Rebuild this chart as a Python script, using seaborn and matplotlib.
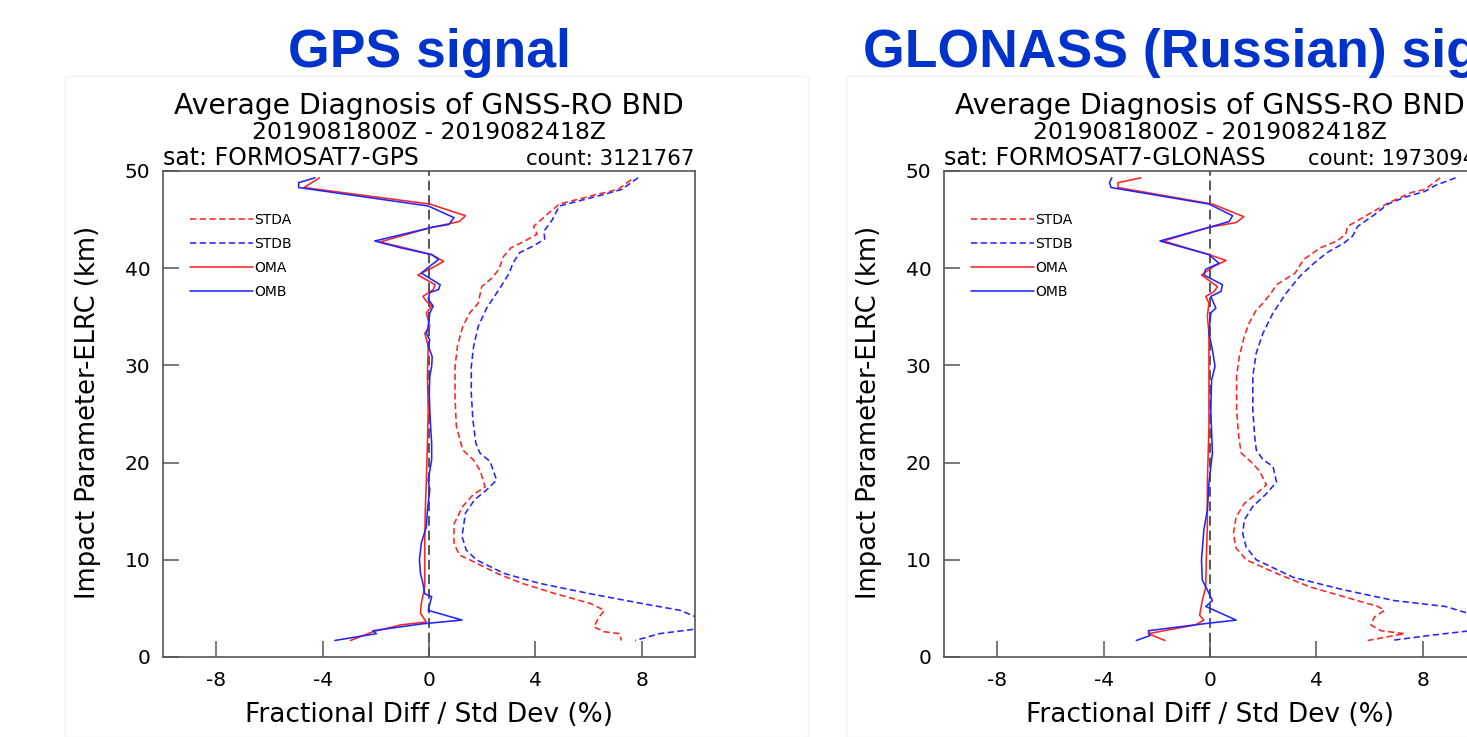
import matplotlib
matplotlib.use('Agg')
import matplotlib.pyplot as plt
import seaborn as sns
from matplotlib.patches import Rectangle

# GPS panel: profiles (x = %, y = km)
gps_stda_x = [7.60, 7.10, 6.33, 4.90, 4.51, 3.93, 4.06, 3.60, 3.08, 2.80, 2.63, 2.37, 1.98, 1.85, 1.53, 1.27, 1.07, 0.98, 0.98, 1.03,
              1.27, 1.66, 1.92, 2.11, 1.66, 1.27, 0.94, 0.94, 1.14, 1.53, 2.56, 3.47, 4.77, 6.07, 6.59, 6.39, 6.20, 6.59, 7.17, 7.23]
gps_stda_y = [49.1, 48.1, 47.6, 46.6, 45.7, 44.3, 43.5, 42.8, 42.1, 41.2, 39.9, 39.0, 38.1, 36.4, 35.4, 34.0, 32.0, 29.9, 26.5, 23.7,
              21.3, 20.3, 19.2, 17.5, 16.7, 15.5, 13.7, 11.7, 10.5, 10.0, 8.6, 7.6, 6.5, 5.5, 4.8, 4.1, 3.1, 2.6, 2.4, 1.7]
gps_stdb_x = [7.86, 7.24, 6.59, 4.90, 4.64, 4.32, 4.35, 3.93, 3.41, 3.15, 3.02, 2.63, 2.17, 1.85, 1.68, 1.59, 1.59, 1.65, 1.76,
              1.91, 2.30, 2.54, 2.17, 1.72, 1.37, 1.24, 1.40, 1.78, 2.82, 4.12, 6.07, 8.01, 9.44, 10.4, 10.1, 8.66, 7.75]
gps_stdb_y = [49.3, 48.1, 47.6, 46.4, 45.0, 43.8, 43.0, 42.3, 41.6, 40.5, 39.5, 37.8, 35.9, 34.0, 32.0, 29.9, 27.1, 24.4, 22.0,
              21.0, 20.1, 18.2, 17.2, 16.2, 14.8, 12.4, 11.0, 10.0, 8.6, 7.6, 6.5, 5.5, 4.8, 3.7, 2.9, 2.4, 1.7]
gps_oma_x = [-4.12, -4.70, 0.03, 1.37, 1.14, 0.10, -1.85, -1.07, 0.10, 0.55, 0.23, -0.42, 0.23, 0.16, -0.23, -0.10, 0.10,
             -0.10, 0.03, -0.16, -0.03, -0.06, -0.03, -0.06, -0.10, -0.14, -0.16, -0.16, -0.29, -0.32, -0.10, -1.07, -2.11, -2.95]
gps_oma_y = [49.3, 48.3, 46.6, 45.4, 44.8, 44.2, 42.7, 42.2, 41.4, 40.7, 40.2, 39.3, 38.3, 37.8, 37.1, 36.6, 36.1,
             35.4, 34.0, 33.3, 32.0, 28.9, 25.4, 22.0, 18.2, 15.1, 11.7, 7.2, 5.5, 4.5, 3.6, 3.3, 2.6, 1.7]
gps_omb_x = [-4.29, -4.90, -4.90, -0.03, 0.94, 0.75, 0.10, -0.81, -2.04, -1.07, 0.10, 0.36, 0.03, -0.29, 0.42, 0.36, 0.03,
             -0.03, 0.16, 0.03, -0.03, -0.10, 0.03, -0.03, 0.12, 0.10, 0.03, 0.01, 0.03, 0.06, 0.10, 0.10, -0.03, 0.03,
             -0.06, -0.10, -0.29, -0.36, -0.32, -0.23, -0.16, 0.10, -0.03, 1.24, -0.29, -2.11, -1.98, -3.54]
gps_omb_y = [49.3, 48.8, 48.3, 46.4, 45.2, 44.5, 44.2, 43.6, 42.8, 42.1, 41.4, 40.9, 40.2, 39.5, 38.3, 37.8, 37.5,
             36.8, 36.1, 35.4, 34.0, 33.3, 32.6, 32.0, 30.9, 29.9, 28.9, 27.1, 25.4, 23.7, 22.0, 20.3, 18.2, 17.2,
             15.1, 13.4, 11.7, 10.0, 8.6, 7.6, 6.5, 6.2, 4.8, 3.8, 3.4, 2.7, 2.4, 1.7]

# GLONASS panel
glo_stda_x = [8.65, 8.08, 7.58, 6.69, 5.93, 5.17, 5.10, 4.78, 4.15, 3.52, 3.20, 2.50, 2.31, 1.99, 1.74, 1.48, 1.29, 1.10, 1.00, 1.00,
              1.08, 1.17, 1.61, 1.87, 2.12, 1.74, 1.29, 0.98, 0.88, 0.98, 1.36, 2.50, 3.77, 5.04, 6.31, 6.56, 6.18, 6.05, 6.43, 7.32, 5.93]
glo_stda_y = [49.3, 48.1, 47.8, 46.7, 45.5, 44.3, 43.5, 42.8, 42.1, 40.9, 39.5, 38.3, 37.5, 36.4, 35.7, 34.4, 33.0, 30.9, 28.9, 25.4,
              22.7, 21.0, 19.9, 19.1, 17.7, 16.8, 15.8, 14.4, 12.7, 11.2, 10.0, 8.6, 7.2, 6.2, 5.2, 4.8, 4.1, 3.3, 2.7, 2.4, 1.7]
glo_stdb_x = [9.23, 8.46, 8.08, 7.32, 6.69, 6.18, 5.55, 5.36, 5.04, 4.40, 3.90, 3.39, 2.88, 2.37, 1.99, 1.74, 1.61, 1.61, 1.68,
              1.74, 1.99, 2.37, 2.50, 2.12, 1.61, 1.29, 1.23, 1.36, 1.74, 3.13, 5.04, 6.94, 8.85, 10.3, 10.1, 8.20, 6.81]
glo_stdb_y = [49.3, 48.5, 47.9, 47.3, 46.6, 45.5, 44.3, 43.3, 42.6, 41.6, 40.5, 39.2, 37.5, 35.4, 33.3, 31.3, 28.9, 25.4, 22.7,
              21.3, 20.3, 19.6, 18.0, 16.8, 15.5, 14.1, 12.7, 11.3, 10.0, 8.2, 6.9, 5.8, 5.2, 4.0, 2.8, 2.2, 1.7]
glo_oma_x = [-2.60, -3.46, -3.46, 0.09, 1.27, 0.98, -0.04, -1.75, -0.04, 0.60, 0.15, -0.32, 0.28, 0.15, -0.16, -0.04, -0.10,
             -0.04, -0.04, -0.04, -0.10, -0.10, -0.14, -0.16, -0.29, -0.39, -0.23, -0.55, -2.32, -1.69]
glo_oma_y = [49.3, 48.8, 48.3, 46.6, 45.3, 44.7, 44.2, 42.8, 41.4, 40.8, 40.2, 39.3, 38.1, 37.6, 37.1, 36.4, 35.1,
             33.3, 28.9, 23.7, 17.9, 13.4, 10.0, 7.2, 5.8, 4.3, 3.8, 3.3, 2.4, 1.7]
glo_omb_x = [-3.69, -3.78, -3.72, -0.04, 0.85, 0.72, -0.04, -1.88, -0.04, 0.34, -0.16, -0.23, 0.47, 0.41, 0.03, 0.22, 0.03,
             -0.04, 0.09, 0.19, 0.06, 0.03, 0.09, -0.04, -0.10, -0.23, -0.32, -0.29, -0.10, 0.09, -0.16, 0.98, -0.29,
             -2.32, -2.26, -2.77]
glo_omb_y = [49.3, 48.8, 48.3, 46.6, 45.4, 44.8, 44.2, 42.8, 41.4, 40.5, 39.9, 39.3, 38.3, 37.6, 37.1, 35.9, 35.4,
             33.3, 31.6, 29.9, 28.5, 25.4, 21.0, 17.9, 15.1, 13.1, 10.0, 7.9, 6.9, 5.8, 5.2, 3.8, 3.4,
             2.7, 2.2, 1.7]

x_ticks = [-8, -4, 0, 4, 8]
y_ticks = [0, 10, 20, 30, 40, 50]

sns.set_theme(style='white')
plt.rcParams['font.family'] = ['DejaVu Sans']
plt.rcParams['lines.scale_dashes'] = False
plt.rcParams['axes.unicode_minus'] = False
plt.rcParams['text.color'] = 'black'
plt.rcParams['xtick.labelcolor'] = 'black'
plt.rcParams['ytick.labelcolor'] = 'black'

W, H = 1467, 737
fig = plt.figure(figsize=(W / 100, H / 100), dpi=100)

RED = '#ff2424'
BLUE = '#2424ff'
GRAY = '#555555'
HEAD_BLUE = '#0033cc'


def draw_panel(left, heading, sat, count, series):
    # faint border of the pasted plot image
    fig.add_artist(Rectangle(((left - 98) / W, 0), 743 / W, 1 - 76 / H, transform=fig.transFigure,
                             fill=False, edgecolor='#f3f3f3', lw=1))
    ax = fig.add_axes([left / W, 1 - 657 / H, 532 / W, 486 / H])
    ax.axvline(0, color=GRAY, lw=1.4, ls=(0, (7, 3.5)), zorder=1)
    for label, xs, ys, color, dashed in series:
        sns.lineplot(x=xs, y=ys, sort=False, estimator=None, ax=ax, color=color, lw=1.15,
                     ls=(0, (4.5, 2.5)) if dashed else '-', label=label)
    ax.set_xlim(-10, 10)
    ax.set_ylim(0, 50)
    ax.set_xticks(x_ticks)
    ax.set_yticks(y_ticks)
    ax.set_xlabel('')
    ax.set_ylabel('')
    ax.tick_params(direction='in', length=11.5, width=1.1, color=GRAY, labelsize=14.5,
                   labelcolor='black', top=False, right=False, bottom=True, left=True)
    ax.tick_params(axis='x', pad=10)
    ax.tick_params(axis='y', pad=9)
    for sp in ax.spines.values():
        sp.set_color(GRAY)
        sp.set_linewidth(1.2)
    ax.legend(loc='upper left', bbox_to_anchor=(27 / 532, (657 - 213) / 486), frameon=False,
              fontsize=10, handlelength=4.5, handletextpad=0.1, labelspacing=0.72,
              borderpad=0, borderaxespad=0, labelcolor='black')

    cx = (left + 266) / W
    fig.text(cx, 1 - 67 / H, heading, ha='center', va='baseline', fontsize=38.5,
             fontweight='bold', color=HEAD_BLUE, family='Liberation Sans')
    fig.text(cx, 1 - 114 / H, 'Average Diagnosis of GNSS-RO BND', ha='center', va='baseline', fontsize=20.3)
    fig.text(cx, 1 - 139 / H, '2019081800Z - 2019082418Z', ha='center', va='baseline', fontsize=16.9)
    fig.text(left / W, 1 - 165 / H, 'sat: ' + sat, ha='left', va='baseline', fontsize=17)
    fig.text((left + 532) / W, 1 - 165 / H, 'count: ' + count, ha='right', va='baseline', fontsize=15.3)
    fig.text((left - 75) / W, 1 - 412 / H, 'Impact Parameter-ELRC (km)', rotation=90,
             ha='center', va='center', fontsize=18.5)
    fig.text(cx, 1 - 715 / H, 'Fractional Diff / Std Dev (%)', ha='center', va='center', fontsize=19)


draw_panel(163, 'GPS signal', 'FORMOSAT7-GPS', '3121767', [
    ('STDA', gps_stda_x, gps_stda_y, RED, True),
    ('STDB', gps_stdb_x, gps_stdb_y, BLUE, True),
    ('OMA', gps_oma_x, gps_oma_y, RED, False),
    ('OMB', gps_omb_x, gps_omb_y, BLUE, False),
])
draw_panel(944, 'GLONASS (Russian) signal', 'FORMOSAT7-GLONASS', '1973094', [
    ('STDA', glo_stda_x, glo_stda_y, RED, True),
    ('STDB', glo_stdb_x, glo_stdb_y, BLUE, True),
    ('OMA', glo_oma_x, glo_oma_y, RED, False),
    ('OMB', glo_omb_x, glo_omb_y, BLUE, False),
])

fig.savefig('out.png', dpi=100)
